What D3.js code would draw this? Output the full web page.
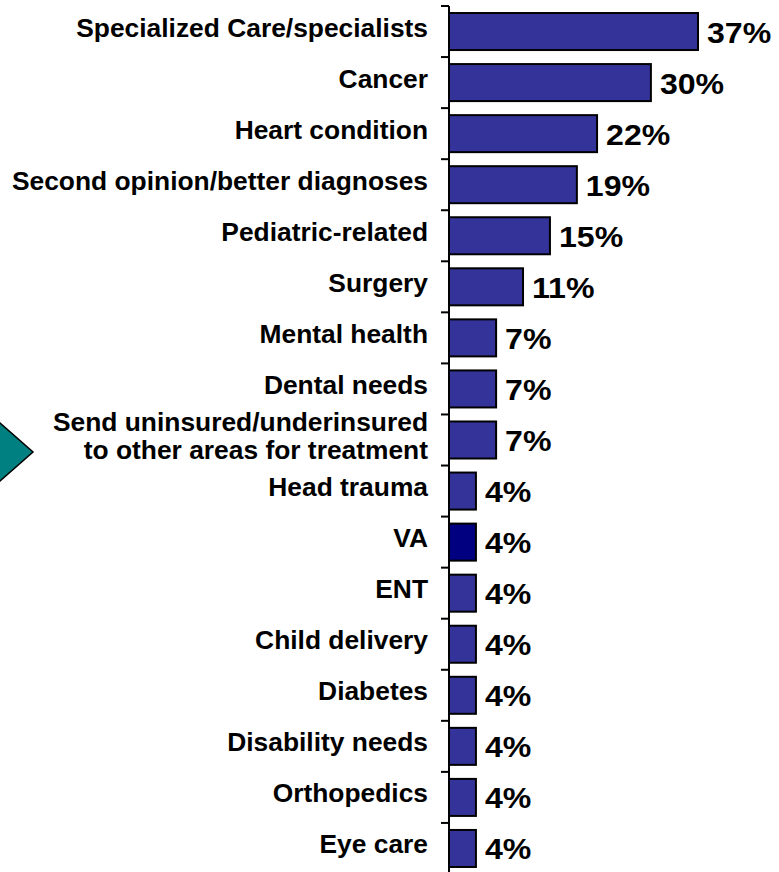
<!DOCTYPE html>
<html>
<head>
<meta charset="utf-8">
<script src="https://cdn.jsdelivr.net/npm/d3@7"></script>
<style>
  body { margin: 0; background: #fff; }
  svg { display: block; font-family: Arial, "Liberation Sans", sans-serif; font-weight: bold; }
</style>
</head>
<body>
<svg id="chart" width="779" height="872"></svg>
<script>
var categories = [
	'Specialized Care/specialists',
	'Cancer',
	'Heart condition',
	'Second opinion/better diagnoses',
	'Pediatric-related',
	'Surgery',
	'Mental health',
	'Dental needs',
	'Send uninsured/underinsured\nto other areas for treatment',
	'Head trauma',
	'VA',
	'ENT',
	'Child delivery',
	'Diabetes',
	'Disability needs',
	'Orthopedics',
	'Eye care'
]
var values = [37, 30, 22, 19, 15, 11, 7, 7, 7, 4, 4, 4, 4, 4, 4, 4, 4]
var highlighted = ['VA']

var svg = d3.select('#chart'),
	axisX = 449

var x = d3.scaleLinear()
	.domain([0, 37])
	.range([axisX, 698])

var y = d3.scaleBand()
	.domain(categories)
	.range([6, 874])
	.paddingInner(0.275)
	.paddingOuter(0.1375)

// teal arrow pointing at the uninsured row
var arrowY = y(categories[8]) + y.bandwidth() / 2 + 12
svg.append('polygon')
	.attr('points', [[-40, arrowY - 64], [33, arrowY], [-40, arrowY + 64]].join(' '))
	.attr('fill', '#008080')
	.attr('stroke', '#000')
	.attr('stroke-width', 1.5)

// bars
svg.selectAll('.bar')
	.data(values)
	.join('rect')
	.attr('class', 'bar')
	.attr('x', x(0))
	.attr('y', function (d, i) { return y(categories[i]) })
	.attr('width', function (d) { return x(d) - x(0) })
	.attr('height', y.bandwidth())
	.attr('fill', function (d, i) { return highlighted.indexOf(categories[i]) >= 0 ? '#000080' : '#333399' })
	.attr('stroke', '#000')
	.attr('stroke-width', 2)

// axis line + ticks at band boundaries
var half = y.step() * y.paddingInner() / 2
var tickYs = categories.map(function (c) { return y(c) - half })
tickYs.push(y(categories[categories.length - 1]) + y.bandwidth() + half)
svg.append('line')
	.attr('x1', axisX).attr('x2', axisX)
	.attr('y1', tickYs[0]).attr('y2', 872)
	.attr('stroke', '#000').attr('stroke-width', 2)
svg.selectAll('.tick')
	.data(tickYs)
	.join('line')
	.attr('class', 'tick')
	.attr('x1', axisX - 8).attr('x2', axisX)
	.attr('y1', function (d) { return d }).attr('y2', function (d) { return d })
	.attr('stroke', '#000').attr('stroke-width', 2)

// category labels (slightly stretched, like the original)
var catText = svg.selectAll('.cat')
	.data(categories)
	.join('text')
	.attr('class', 'cat')
	.attr('text-anchor', 'end')
	.attr('font-size', '25px')
	.attr('fill', '#000')
	.attr('transform', 'translate(428,0) scale(1.055,1)')
catText.each(function (d) {
	var lines = d.split('\n'),
		cy = y(d) + y.bandwidth() / 2 - 4,
		lh = 28,
		first = cy + 9 - (lines.length - 1) * lh / 2
	d3.select(this).selectAll('tspan')
		.data(lines)
		.join('tspan')
		.attr('x', 0)
		.attr('y', function (l, i) { return first + i * lh })
		.text(function (l) { return l })
})

// value labels
svg.selectAll('.val')
	.data(values)
	.join('text')
	.attr('class', 'val')
	.attr('transform', function (d, i) {
		return 'translate(' + (x(d) + 9) + ',' + (y(categories[i]) + y.bandwidth() / 2 + 11) + ') scale(1.07,1)'
	})
	.attr('font-size', '30px')
	.attr('fill', '#000')
	.text(function (d) { return d + '%' })
</script>
</body>
</html>
